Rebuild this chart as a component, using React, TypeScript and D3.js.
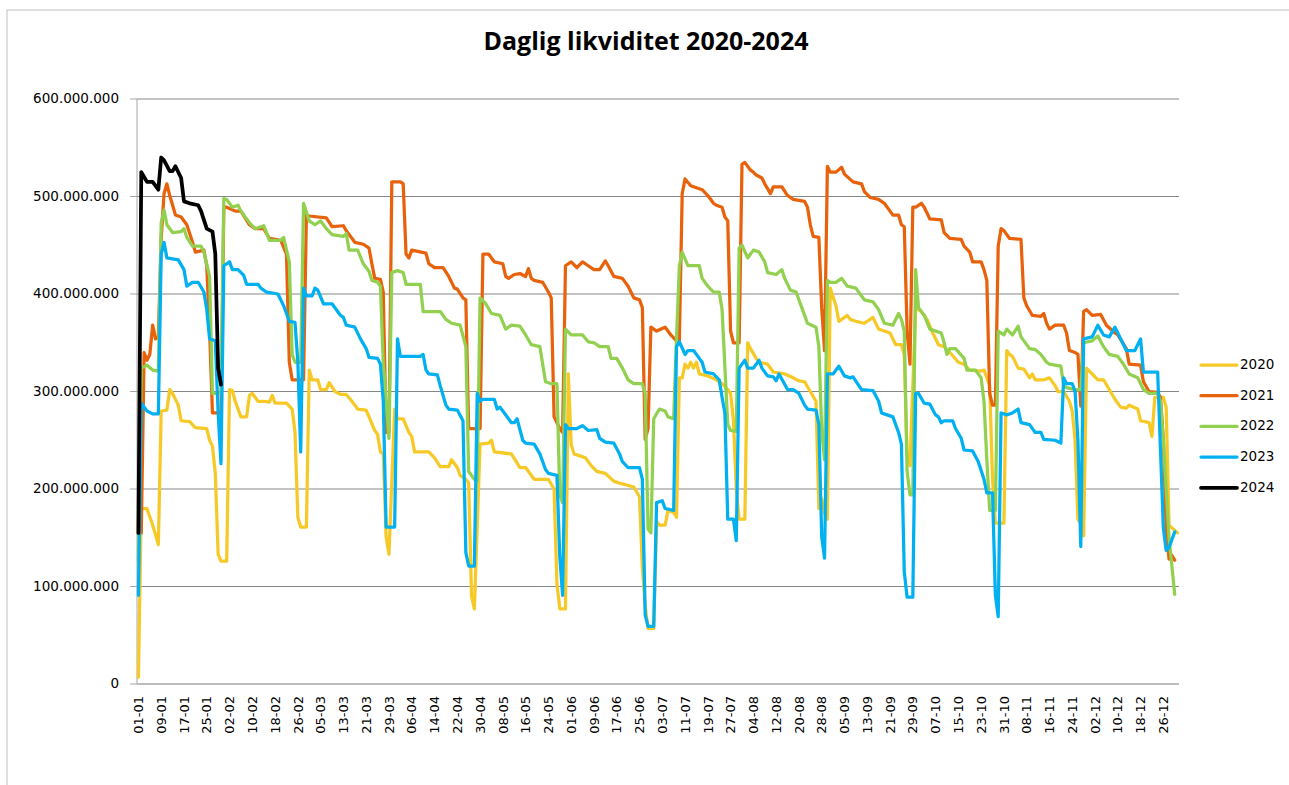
import React from "react";
import * as d3 from "d3";

const W = 1289;
const H = 785;
const PLOT = { LEFT: 137, RIGHT: 1179, TOP: 99, BOTTOM: 684 };

// categories: every day of a leap year, labelled dd-mm
const days = d3
  .timeDay.range(new Date(2020, 0, 1), new Date(2021, 0, 1))
  .map((d) => d3.timeFormat("%d-%m")(d));

const yTicks = [0, 100e6, 200e6, 300e6, 400e6, 500e6, 600e6];

// [day index, liquidity in millions]
const y2020: [number, number][] = [
  [0, 7], [1, 180], [3, 180], [5, 163], [7, 143], [8, 280], [10, 281], [11, 302], [12, 298], [14, 286],
  [15, 270], [18, 269], [20, 263], [24, 262], [25, 250], [26, 244], [27, 216], [28, 133], [29, 126], [31, 126],
  [32, 302], [33, 301], [34, 290], [36, 274], [38, 274], [39, 296], [40, 298], [42, 290], [44, 290], [46, 289],
  [47, 296], [48, 288], [52, 288], [54, 282], [55, 258], [56, 171], [57, 161], [59, 161], [60, 322], [61, 312],
  [63, 312], [64, 302], [66, 302], [67, 309], [69, 300], [71, 297], [73, 297], [75, 290], [77, 282], [80, 281],
  [81, 274], [83, 260], [84, 256], [85, 238], [86, 236], [87, 151], [88, 133], [90, 282], [91, 272], [93, 272],
  [95, 258], [96, 254], [97, 238], [102, 238], [104, 232], [106, 223], [109, 223], [110, 230], [112, 222], [113, 214],
  [115, 210], [116, 206], [117, 90], [118, 77], [120, 246], [123, 247], [124, 250], [125, 238], [131, 236], [134, 222],
  [136, 222], [139, 210], [144, 210], [146, 200], [147, 103], [148, 77], [150, 77], [151, 318], [152, 246], [153, 236],
  [155, 234], [157, 232], [159, 224], [161, 218], [164, 216], [167, 208], [169, 206], [174, 202], [176, 192], [177, 120],
  [178, 80], [179, 57], [181, 57], [182, 167], [183, 163], [185, 163], [186, 178], [188, 176], [189, 171], [190, 314],
  [191, 314], [192, 328], [193, 324], [194, 330], [195, 324], [196, 330], [197, 318], [200, 316], [203, 312], [205, 308],
  [207, 302], [208, 298], [209, 270], [210, 200], [211, 169], [213, 169], [214, 350], [215, 344], [217, 334], [218, 330],
  [221, 328], [223, 320], [227, 318], [230, 314], [232, 311], [234, 310], [236, 300], [238, 290], [239, 180], [240, 190],
  [241, 175], [242, 169], [243, 406], [245, 388], [246, 372], [249, 378], [250, 374], [252, 372], [255, 370], [258, 376],
  [260, 364], [261, 363], [264, 360], [266, 348], [268, 348], [269, 338], [270, 234], [271, 224], [273, 386], [275, 382],
  [277, 374], [279, 360], [281, 348], [283, 346], [285, 340], [288, 330], [290, 328], [292, 322], [296, 321], [297, 322],
  [299, 306], [300, 210], [301, 165], [304, 165], [305, 342], [306, 338], [307, 336], [309, 324], [311, 323], [313, 314],
  [314, 318], [315, 312], [318, 312], [320, 314], [322, 306], [323, 300], [325, 300], [327, 290], [328, 280], [329, 250],
  [330, 169], [331, 165], [332, 152], [333, 324], [335, 318], [337, 312], [339, 312], [341, 302], [343, 292], [345, 284],
  [347, 283], [348, 286], [351, 282], [352, 270], [355, 268], [356, 254], [357, 294], [360, 294], [361, 284], [362, 163],
  [365, 155],
];

const y2021: [number, number][] = [
  [0, 155], [1, 155], [2, 340], [3, 332], [4, 338], [5, 368], [6, 354], [7, 356], [8, 457], [9, 503],
  [10, 513], [11, 501], [13, 481], [15, 479], [17, 471], [19, 453], [20, 443], [23, 445], [24, 429], [25, 362],
  [26, 278], [29, 278], [30, 489], [31, 489], [34, 485], [36, 485], [39, 471], [41, 467], [44, 467], [46, 457],
  [50, 455], [52, 441], [53, 330], [54, 312], [58, 312], [59, 481], [60, 480], [66, 478], [68, 469], [72, 470],
  [73, 465], [76, 453], [79, 451], [81, 447], [82, 431], [83, 416], [85, 415], [86, 402], [87, 258], [88, 258],
  [89, 515], [92, 515], [93, 513], [94, 441], [95, 437], [96, 445], [101, 442], [102, 431], [104, 427], [107, 427],
  [109, 418], [111, 406], [112, 405], [114, 396], [115, 394], [116, 262], [120, 262], [121, 441], [123, 441], [125, 433],
  [128, 431], [129, 418], [130, 416], [132, 420], [134, 421], [136, 418], [137, 426], [138, 416], [139, 414], [142, 412],
  [144, 402], [145, 396], [146, 274], [148, 262], [149, 258], [150, 429], [152, 433], [154, 427], [156, 433], [158, 429],
  [160, 425], [162, 425], [164, 434], [165, 429], [167, 418], [170, 416], [172, 408], [174, 396], [176, 394], [177, 386],
  [178, 251], [179, 262], [180, 366], [182, 362], [185, 366], [186, 362], [187, 358], [189, 352], [190, 352], [191, 503],
  [192, 518], [194, 511], [196, 509], [198, 507], [200, 501], [202, 493], [203, 491], [205, 489], [206, 479], [207, 475],
  [208, 362], [209, 350], [211, 350], [212, 533], [213, 535], [215, 527], [216, 525], [217, 522], [219, 519], [220, 513],
  [222, 503], [223, 510], [226, 510], [228, 501], [230, 497], [234, 495], [235, 489], [236, 471], [237, 459], [239, 458],
  [240, 386], [241, 342], [242, 531], [243, 525], [245, 525], [247, 530], [248, 523], [251, 515], [254, 513], [255, 505],
  [257, 499], [260, 497], [262, 493], [264, 485], [265, 481], [267, 481], [268, 471], [269, 469], [270, 362], [271, 328],
  [272, 489], [273, 489], [275, 493], [276, 489], [278, 477], [282, 476], [283, 463], [285, 457], [289, 456], [290, 449],
  [292, 443], [293, 433], [296, 433], [297, 425], [298, 414], [299, 298], [300, 286], [301, 286], [302, 449], [303, 467],
  [304, 465], [306, 457], [310, 456], [311, 396], [312, 388], [314, 378], [317, 377], [318, 380], [319, 370], [320, 364],
  [322, 368], [325, 368], [326, 360], [327, 342], [329, 340], [330, 338], [331, 285], [332, 382], [333, 384], [335, 378],
  [338, 379], [340, 368], [343, 360], [344, 358], [347, 344], [348, 328], [352, 327], [353, 310], [355, 300], [358, 299],
  [359, 294], [360, 250], [361, 160], [362, 128], [363, 132], [364, 127],
];

const y2022: [number, number][] = [
  [0, 127], [1, 324], [3, 327], [5, 322], [7, 321], [8, 473], [9, 486], [10, 471], [12, 463], [15, 464],
  [16, 467], [17, 458], [19, 449], [22, 449], [23, 443], [25, 418], [26, 298], [29, 298], [30, 498], [31, 497],
  [33, 489], [35, 491], [36, 485], [39, 473], [41, 467], [44, 470], [45, 463], [46, 455], [50, 455], [51, 458],
  [53, 433], [54, 338], [55, 330], [57, 330], [58, 493], [60, 475], [62, 471], [64, 475], [66, 467], [68, 461],
  [72, 459], [73, 462], [74, 445], [77, 445], [79, 431], [81, 423], [82, 414], [84, 412], [85, 408], [86, 330],
  [88, 252], [89, 422], [91, 424], [93, 422], [94, 410], [99, 410], [100, 382], [106, 382], [108, 374], [110, 370],
  [113, 368], [115, 346], [116, 218], [118, 210], [119, 208], [120, 396], [122, 390], [124, 380], [127, 378], [129, 364],
  [131, 368], [134, 367], [136, 358], [138, 348], [141, 346], [143, 310], [145, 308], [147, 308], [148, 194], [149, 186],
  [150, 364], [152, 358], [156, 358], [158, 351], [160, 350], [162, 346], [165, 346], [166, 334], [168, 334], [170, 324],
  [172, 312], [174, 308], [177, 308], [178, 298], [179, 159], [180, 155], [181, 272], [183, 282], [185, 280], [186, 274],
  [188, 272], [189, 354], [190, 429], [191, 443], [193, 429], [197, 429], [198, 416], [200, 408], [202, 402], [204, 402],
  [205, 384], [207, 266], [208, 260], [210, 259], [211, 447], [212, 450], [214, 437], [216, 445], [218, 443], [220, 433],
  [221, 422], [224, 420], [226, 425], [227, 416], [229, 404], [231, 402], [233, 386], [235, 370], [238, 366], [239, 346],
  [240, 260], [241, 230], [242, 414], [243, 412], [245, 412], [247, 416], [249, 408], [252, 406], [254, 398], [255, 394],
  [258, 392], [260, 384], [262, 370], [265, 368], [267, 380], [268, 374], [269, 362], [270, 218], [271, 194], [272, 194],
  [273, 425], [274, 386], [276, 378], [278, 364], [282, 360], [283, 350], [284, 338], [285, 344], [287, 344], [290, 334],
  [291, 322], [294, 322], [296, 314], [297, 290], [298, 230], [299, 178], [301, 178], [302, 362], [304, 358], [305, 364],
  [307, 358], [309, 367], [310, 356], [313, 344], [315, 343], [317, 338], [319, 330], [320, 328], [324, 326], [325, 306],
  [326, 304], [329, 302], [331, 302], [332, 350], [335, 352], [337, 357], [339, 346], [341, 338], [344, 336], [346, 328],
  [348, 318], [351, 314], [353, 302], [355, 298], [358, 298], [359, 290], [360, 250], [362, 150], [364, 92],
];

const y2023: [number, number][] = [
  [0, 91], [1, 288], [3, 280], [5, 277], [7, 277], [8, 441], [9, 453], [10, 437], [14, 435], [16, 425],
  [17, 408], [19, 412], [21, 412], [23, 402], [24, 384], [25, 354], [27, 352], [28, 278], [29, 226], [30, 429],
  [32, 433], [33, 425], [35, 425], [37, 419], [38, 410], [42, 410], [43, 406], [45, 402], [49, 400], [51, 388],
  [53, 372], [55, 371], [56, 330], [57, 238], [58, 406], [59, 398], [61, 398], [62, 406], [63, 404], [65, 390],
  [68, 390], [71, 378], [72, 376], [73, 368], [76, 366], [78, 354], [80, 344], [81, 335], [84, 334], [85, 328],
  [86, 290], [87, 161], [90, 161], [91, 354], [92, 336], [99, 336], [100, 338], [101, 322], [102, 318], [105, 317],
  [106, 306], [108, 286], [109, 282], [112, 281], [114, 270], [115, 135], [116, 121], [118, 121], [119, 298], [120, 290],
  [121, 292], [125, 292], [126, 282], [127, 284], [128, 280], [131, 268], [132, 268], [133, 272], [135, 250], [136, 247],
  [139, 246], [141, 236], [143, 220], [144, 216], [147, 214], [148, 131], [149, 91], [150, 266], [151, 262], [154, 262],
  [156, 265], [158, 260], [161, 261], [162, 252], [164, 248], [167, 247], [169, 236], [170, 228], [172, 222], [176, 222],
  [177, 210], [178, 71], [179, 59], [181, 59], [182, 186], [184, 188], [185, 180], [188, 178], [189, 346], [190, 351],
  [192, 338], [193, 342], [195, 342], [197, 334], [198, 330], [199, 320], [202, 318], [204, 312], [205, 294], [206, 278],
  [207, 169], [209, 169], [210, 147], [211, 324], [213, 332], [214, 324], [216, 324], [218, 332], [219, 324], [221, 316],
  [223, 315], [224, 311], [225, 318], [228, 302], [230, 302], [232, 298], [234, 286], [235, 282], [238, 281], [239, 266],
  [240, 151], [241, 129], [242, 318], [244, 318], [246, 326], [248, 316], [250, 314], [251, 315], [254, 302], [258, 301],
  [260, 290], [261, 278], [263, 276], [265, 274], [267, 258], [268, 246], [269, 115], [270, 89], [272, 89], [273, 298],
  [274, 298], [276, 288], [278, 287], [280, 276], [281, 274], [282, 268], [283, 270], [286, 270], [287, 262], [289, 252],
  [290, 240], [293, 239], [295, 228], [297, 210], [298, 196], [300, 196], [301, 91], [302, 69], [303, 278], [305, 276],
  [307, 278], [309, 282], [310, 268], [313, 266], [315, 258], [317, 258], [318, 251], [322, 250], [324, 247], [325, 314],
  [326, 308], [328, 308], [329, 300], [330, 250], [331, 141], [332, 354], [335, 356], [337, 368], [339, 358], [341, 356],
  [343, 366], [344, 360], [347, 342], [350, 342], [352, 354], [353, 320], [358, 320], [360, 160], [361, 137], [362, 140],
  [364, 156],
];

const y2024: [number, number][] = [
  [0, 155], [1, 525], [2, 520], [3, 515], [5, 515], [7, 507], [8, 540], [9, 537], [11, 526], [12, 526],
  [13, 531], [15, 519], [16, 495], [18, 493], [21, 491], [22, 485], [24, 467], [26, 464], [27, 441], [28, 324],
  [29, 307],
];

const series = [
  { name: "2020", color: "#F7C926", width: 3.25, data: y2020 },
  { name: "2021", color: "#E8620C", width: 3.25, data: y2021 },
  { name: "2022", color: "#92D050", width: 3.25, data: y2022 },
  { name: "2023", color: "#00B0F0", width: 3.25, data: y2023 },
  { name: "2024", color: "#000000", width: 3.75, data: y2024 },
];

const FONT = "'DejaVu Sans', sans-serif";

const App: React.FC = () => {
  const x = d3
    .scaleBand<number>()
    .domain(days.map((_, i) => i))
    .range([PLOT.LEFT, PLOT.RIGHT]);
  const cx = (i: number) => (x(i) as number) + x.bandwidth() / 2;

  const y = d3.scaleLinear().domain([0, 600e6]).range([PLOT.BOTTOM, PLOT.TOP]);

  const line = d3
    .line<[number, number]>()
    .x((d) => cx(d[0]))
    .y((d) => y(d[1] * 1e6));

  const fmt = (v: number) => d3.format(",")(v).replace(/,/g, ".");

  return (
    <svg
      width={W}
      height={H}
      style={{ position: "absolute", left: 0, top: 0, display: "block", background: "#fff" }}
    >
      <rect x={7} y={10} width={W} height={H} fill="#fff" stroke="#BFBFBF" strokeWidth={1} />

      <text
        x={646}
        y={43}
        textAnchor="middle"
        dominantBaseline="middle"
        fontFamily="'Open Sans', sans-serif"
        fontWeight={700}
        fontSize={25}
        fill="#000"
      >
        Daglig likviditet 2020-2024
      </text>

      {yTicks.map((t) => (
        <g key={t}>
          {t > 0 && (
            <line x1={PLOT.LEFT} x2={PLOT.RIGHT} y1={y(t)} y2={y(t)} stroke="#878787" strokeWidth={1} />
          )}
          <line x1={130} x2={PLOT.LEFT} y1={y(t)} y2={y(t)} stroke="#A6A6A6" strokeWidth={1} />
          <text
            x={119}
            y={y(t)}
            textAnchor="end"
            dominantBaseline="middle"
            fontFamily={FONT}
            fontSize={13.5}
            fill="#000"
          >
            {fmt(t)}
          </text>
        </g>
      ))}

      <line x1={PLOT.LEFT} x2={PLOT.LEFT} y1={PLOT.TOP} y2={PLOT.BOTTOM} stroke="#A6A6A6" strokeWidth={1} />
      <line x1={PLOT.LEFT} x2={PLOT.RIGHT} y1={PLOT.BOTTOM} y2={PLOT.BOTTOM} stroke="#A6A6A6" strokeWidth={1.5} />

      {days.map((d, i) =>
        i % 8 === 0 ? (
          <text
            key={d}
            transform={`translate(${cx(i)},${PLOT.BOTTOM + 12}) rotate(-90)`}
            textAnchor="end"
            dy="0.36em"
            fontFamily={FONT}
            fontSize={13}
            fill="#000"
          >
            {d}
          </text>
        ) : null
      )}

      {series.map((s) => (
        <path
          key={s.name}
          d={line(s.data) ?? ""}
          fill="none"
          stroke={s.color}
          strokeWidth={s.width}
          strokeLinejoin="round"
          strokeLinecap="round"
        />
      ))}

      {series.map((s, i) => (
        <g key={s.name} transform={`translate(1201,${365 + i * 30.7})`}>
          <line x1={0} x2={36} y1={0} y2={0} stroke={s.color} strokeWidth={s.width} strokeLinecap="round" />
          <text x={39} y={0} dominantBaseline="middle" fontFamily={FONT} fontSize={13.5} fill="#000">
            {s.name}
          </text>
        </g>
      ))}
    </svg>
  );
};

export default App;
